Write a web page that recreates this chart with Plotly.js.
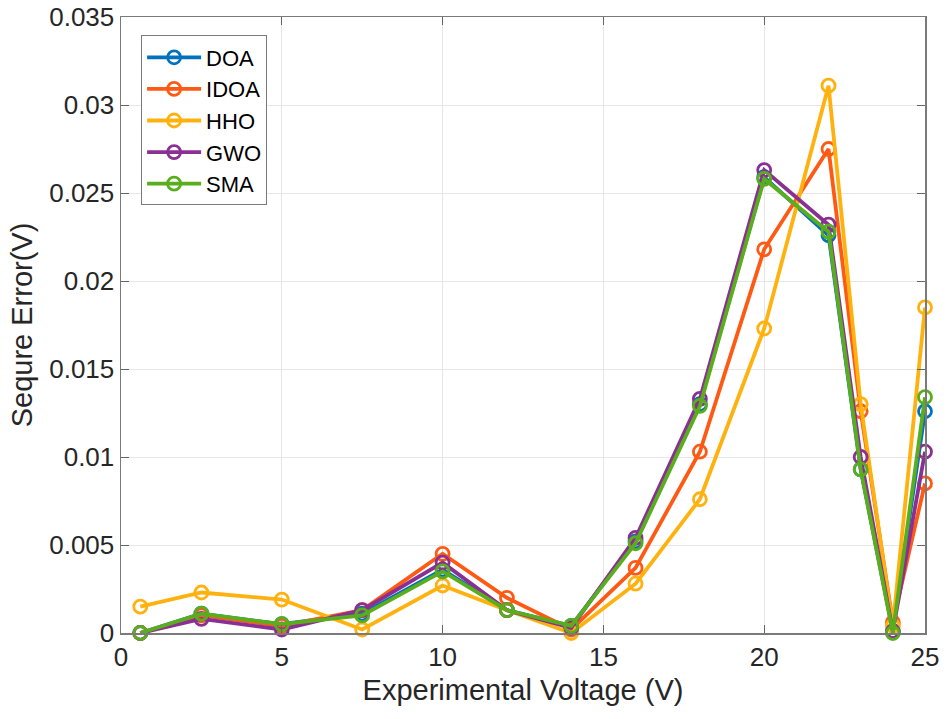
<!DOCTYPE html>
<html>
<head>
<meta charset="utf-8">
<script src="https://cdn.plot.ly/plotly-3.0.1.min.js"></script>
<style>
  html, body { margin: 0; padding: 0; background: #ffffff; }
  #chart { width: 948px; height: 719px; }
</style>
</head>
<body>
<div id="chart"></div>
<script>
  // experimental voltage points (V)
  var voltage = [0.6, 2.5, 5, 7.5, 10, 12, 14, 16, 18, 20, 22, 23, 24, 25];

  // squared error per algorithm
  var doaErr  = [0.0000, 0.0011, 0.0005, 0.0011, 0.0036, 0.0013, 0.0004, 0.0052, 0.0130, 0.0259, 0.0226, 0.0093, 0.0001, 0.0126];
  var idoaErr = [0.0000, 0.0010, 0.0004, 0.0013, 0.0045, 0.0020, 0.0002, 0.0037, 0.0103, 0.0218, 0.0275, 0.0126, 0.0006, 0.0085];
  var hhoErr  = [0.0015, 0.0023, 0.0019, 0.0002, 0.0027, 0.0013, 0.0000, 0.0028, 0.0076, 0.0173, 0.0311, 0.0130, 0.0004, 0.0185];
  var gwoErr  = [0.0000, 0.0008, 0.0002, 0.0013, 0.0040, 0.0013, 0.0003, 0.0054, 0.0133, 0.0263, 0.0232, 0.0100, 0.0001, 0.0103];
  var smaErr  = [0.0000, 0.0011, 0.0005, 0.0010, 0.0035, 0.0013, 0.0004, 0.0051, 0.0129, 0.0258, 0.0228, 0.0093, 0.0000, 0.0134];

  var seriesNames = ["DOA", "IDOA", "HHO", "GWO", "SMA"];
  var seriesData = [doaErr, idoaErr, hhoErr, gwoErr, smaErr];
  var seriesColors = ["#0072BD", "#FF5A14", "#FFB20F", "#8A2F93", "#5AAE1E"];

  var xTicks = [0, 5, 10, 15, 20, 25];
  var yTicks = [0, 0.005, 0.01, 0.015, 0.02, 0.025, 0.03, 0.035];
  var yTickText = ["0", "0.005", "0.01", "0.015", "0.02", "0.025", "0.03", "0.035"];

  var FONT = "Liberation Sans, Arial, sans-serif";

  var traces = seriesNames.map(function (name, i) {
    return {
      type: "scatter",
      mode: "lines+markers",
      name: name,
      x: voltage,
      y: seriesData[i],
      cliponaxis: false,
      line: { color: seriesColors[i], width: 3.8 },
      marker: {
        symbol: "circle-open",
        size: 13,
        color: seriesColors[i],
        line: { color: seriesColors[i], width: 2.8 }
      }
    };
  });

  var tickFont = { family: FONT, size: 26, color: "#262626" };
  var titleFont = { family: FONT, size: 29, color: "#262626" };

  var layout = {
    width: 948,
    height: 719,
    paper_bgcolor: "#ffffff",
    plot_bgcolor: "#ffffff",
    font: tickFont,
    margin: { l: 121, r: 23, t: 17, b: 86 },
    showlegend: true,
    legend: {
      x: 0.025,
      y: 0.97,
      xanchor: "left",
      yanchor: "top",
      bgcolor: "#ffffff",
      bordercolor: "#7a7a7a",
      borderwidth: 1,
      font: { family: FONT, size: 22, color: "#000000" },
      itemwidth: 54,
      tracegroupgap: 0
    },
    xaxis: {
      range: [0, 25],
      tickvals: xTicks,
      ticks: "inside",
      ticklen: 8,
      tickcolor: "#666666",
      showline: true,
      linecolor: "#7a7a7a",
      linewidth: 1.5,
      mirror: "ticks",
      showgrid: true,
      gridcolor: "#e6e6e6",
      zeroline: false,
      tickfont: tickFont,
      title: { text: "Experimental Voltage (V)", font: titleFont, standoff: 9 }
    },
    yaxis: {
      range: [0, 0.035],
      tickvals: yTicks,
      ticktext: yTickText,
      ticks: "inside",
      ticklen: 8,
      tickcolor: "#666666",
      showline: true,
      linecolor: "#7a7a7a",
      linewidth: 1.5,
      mirror: "ticks",
      showgrid: true,
      gridcolor: "#e6e6e6",
      zeroline: false,
      tickfont: tickFont,
      title: { text: "Sequre Error(V)", font: titleFont, standoff: 8 }
    }
  };

  Plotly.newPlot("chart", traces, layout, { displayModeBar: false, staticPlot: true });
</script>
</body>
</html>
